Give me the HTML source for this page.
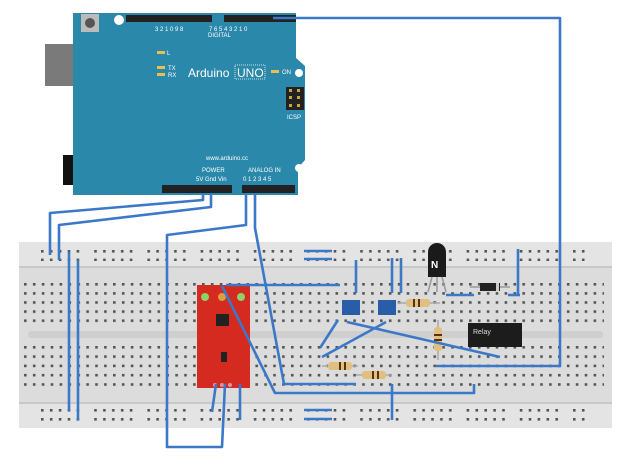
<!DOCTYPE html>
<html><head><meta charset="utf-8"><style>
html,body{margin:0;padding:0;background:#fff;width:620px;height:470px;overflow:hidden}
svg{display:block}
text{font-family:"Liberation Sans",sans-serif}
</style></head><body>
<svg width="620" height="470" viewBox="0 0 620 470" xmlns="http://www.w3.org/2000/svg">
<defs>
<pattern id="railT" x="41" y="250" width="53.2" height="8.6" patternUnits="userSpaceOnUse">
<rect x="0" y="0" width="2.6" height="2.6" fill="#555"/><rect x="8.9" y="0" width="2.6" height="2.6" fill="#555"/><rect x="17.8" y="0" width="2.6" height="2.6" fill="#555"/><rect x="26.7" y="0" width="2.6" height="2.6" fill="#555"/><rect x="35.6" y="0" width="2.6" height="2.6" fill="#555"/>
</pattern>
<pattern id="railB" x="41" y="409" width="53.2" height="9" patternUnits="userSpaceOnUse">
<rect x="0" y="0" width="2.6" height="2.6" fill="#555"/><rect x="8.9" y="0" width="2.6" height="2.6" fill="#555"/><rect x="17.8" y="0" width="2.6" height="2.6" fill="#555"/><rect x="26.7" y="0" width="2.6" height="2.6" fill="#555"/><rect x="35.6" y="0" width="2.6" height="2.6" fill="#555"/>
</pattern>
<pattern id="main" x="24" y="283" width="8.9" height="9.1" patternUnits="userSpaceOnUse">
<rect x="0" y="0" width="2.6" height="2.6" fill="#555"/>
</pattern>
<pattern id="main2" x="24" y="346" width="8.9" height="9.3" patternUnits="userSpaceOnUse">
<rect x="0" y="0" width="2.6" height="2.6" fill="#555"/>
</pattern>
</defs>

<!-- breadboard -->
<rect x="19" y="242" width="593" height="186" fill="#dcdcdc"/>
<rect x="19" y="242" width="593" height="24" fill="#e4e4e4"/>
<rect x="19" y="404" width="593" height="24" fill="#e4e4e4"/>
<rect x="19" y="266" width="593" height="2" fill="#c8c8c8"/>
<rect x="19" y="402" width="593" height="2" fill="#c8c8c8"/>
<rect x="28" y="331" width="575" height="7" rx="3" fill="#cfcfcf"/>
<rect x="41" y="250" width="545" height="11" fill="url(#railT)"/>
<rect x="41" y="409" width="545" height="12" fill="url(#railB)"/>
<rect x="24" y="283" width="580" height="40" fill="url(#main)"/>
<rect x="24" y="346" width="580" height="40" fill="url(#main2)"/>

<!-- Arduino -->
<rect x="45" y="44" width="56" height="42" fill="#7a7a7a"/>
<rect x="63" y="155" width="46" height="30" fill="#111"/>
<path d="M73 13 H296 V58 L305 66 V160 L298 168 V195 H73 Z" fill="#2a88aa"/>
<rect x="81" y="14" width="18" height="18" fill="#bbb"/>
<circle cx="90" cy="23" r="5" fill="#555"/>
<circle cx="119" cy="20" r="5" fill="#fff"/>
<circle cx="299" cy="73" r="4" fill="#fff"/>
<circle cx="299" cy="168" r="4" fill="#fff"/>
<rect x="126" y="15" width="86" height="7" fill="#222"/>
<rect x="224" y="15" width="72" height="7" fill="#222"/>
<rect x="162" y="185" width="70" height="8" fill="#222"/>
<rect x="242" y="185" width="53" height="8" fill="#222"/>
<rect x="286" y="87" width="18" height="23" fill="#222"/>
<g fill="#d0a040"><rect x="289" y="89" width="3" height="3"/><rect x="297" y="89" width="3" height="3"/><rect x="289" y="96" width="3" height="3"/><rect x="297" y="96" width="3" height="3"/><rect x="289" y="104" width="3" height="3"/><rect x="297" y="104" width="3" height="3"/></g>
<g fill="#e8c050"><rect x="157" y="51" width="8" height="3"/><rect x="157" y="66" width="8" height="3"/><rect x="157" y="73" width="8" height="3"/><rect x="271" y="70" width="8" height="3"/></g>
<g fill="#fff" font-size="6">
<text x="167" y="55">L</text><text x="168" y="70">TX</text><text x="168" y="77">RX</text>
<text x="282" y="74">ON</text><text x="208" y="37">DIGITAL</text>
<text x="287" y="119">ICSP</text>
<text x="206" y="160">www.arduino.cc</text>
<text x="202" y="172">POWER</text><text x="248" y="172">ANALOG IN</text>
<text x="196" y="181">5V Gnd Vin</text><text x="243" y="181">0 1 2 3 4 5</text>
<text x="209" y="31">7 6 5 4 3 2 1 0</text>
<text x="155" y="31">3 2 1 0 9 8</text>
</g>
<text x="188" y="77" fill="#fff" font-size="12">Arduino</text>
<rect x="235" y="65" width="30" height="14" fill="none" stroke="#fff" stroke-width="0.8" stroke-dasharray="1,1"/>
<text x="237" y="77" fill="#fff" font-size="12">UNO</text>

<!-- red board -->
<rect x="197" y="285" width="53" height="103" fill="#d42a1f"/>
<circle cx="205" cy="297" r="4" fill="#8fd06a"/><circle cx="222" cy="297" r="4" fill="#d7a040"/><circle cx="241" cy="297" r="4" fill="#8fd06a"/>
<rect x="216" y="314" width="13" height="12" fill="#222"/>
<rect x="221" y="352" width="6" height="10" fill="#222"/>
<circle cx="215" cy="385" r="2" fill="#c9a"/><circle cx="222" cy="385" r="2" fill="#c9a"/><circle cx="230" cy="385" r="2" fill="#c9a"/>

<!-- trimpots -->
<rect x="342" y="300" width="18" height="15" fill="#2a5da8"/>
<rect x="378" y="300" width="18" height="15" fill="#2a5da8"/>
<!-- transistor -->
<path d="M428 252 a9 9 0 0 1 18 0 V277 H428Z" fill="#1a1a1a"/>
<text x="431" y="268" fill="#fff" font-size="10" font-weight="bold">N</text>
<path d="M432 277 L428 292 M437 277 V292 M442 277 L446 292" stroke="#999" stroke-width="1.5" fill="none"/>
<!-- diode -->
<line x1="470" y1="287" x2="510" y2="287" stroke="#999" stroke-width="1.5"/>
<rect x="480" y="283" width="20" height="8" fill="#222"/><rect x="496" y="283" width="3" height="8" fill="#ccc"/>
<!-- resistors -->
<g stroke="#aaa" stroke-width="1.5">
<line x1="398" y1="303" x2="440" y2="303"/><line x1="438" y1="320" x2="438" y2="360"/>
<line x1="322" y1="366" x2="358" y2="366"/><line x1="356" y1="375" x2="392" y2="375"/>
</g>
<g fill="#e0c080"><rect x="406" y="299" width="24" height="8" rx="3"/><rect x="434" y="327" width="8" height="24" rx="3"/><rect x="328" y="362" width="24" height="8" rx="3"/><rect x="362" y="371" width="24" height="8" rx="3"/></g>
<g fill="#5a3010"><rect x="413" y="299" width="2" height="8"/><rect x="418" y="299" width="2" height="8"/><rect x="434" y="334" width="8" height="2"/><rect x="434" y="339" width="8" height="2"/><rect x="339" y="362" width="2" height="8"/><rect x="344" y="362" width="2" height="8"/><rect x="372" y="371" width="2" height="8"/><rect x="377" y="371" width="2" height="8"/></g>
<!-- relay -->
<rect x="468" y="323" width="54" height="24" fill="#1c1c1c"/>
<text x="473" y="334" fill="#ddd" font-size="7" font-family="Liberation Mono">Relay</text>

<!-- wires -->
<g stroke="#3c78c8" stroke-width="2.6" fill="none" stroke-linejoin="round">
<polyline points="273,18 560,18 560,366 436,366"/>
<polyline points="203,193 203,200 50,213 50,255"/>
<polyline points="211,193 211,207 59,225 59,260"/>
<line x1="69" y1="252" x2="69" y2="411"/>
<line x1="78" y1="260" x2="78" y2="420"/>
<polyline points="246,193 246,225 167,235 167,447 222,447 225,384"/>
<polyline points="255,193 255,228 284,384 356,384"/>
<polyline points="222,286 275,393 474,393 474,384"/>
<polyline points="226,285 340,285"/>
<line x1="216" y1="384" x2="212" y2="412"/>
<line x1="240" y1="384" x2="240" y2="420"/>
<line x1="304" y1="251" x2="332" y2="251"/><line x1="304" y1="259" x2="332" y2="259"/>
<line x1="304" y1="410" x2="332" y2="410"/><line x1="304" y1="419" x2="332" y2="419"/>
<line x1="356" y1="260" x2="356" y2="293"/>
<line x1="392" y1="258" x2="392" y2="293"/><line x1="401" y1="258" x2="401" y2="293"/>
<line x1="518" y1="249" x2="518" y2="295"/>
<line x1="446" y1="295" x2="474" y2="295"/><line x1="508" y1="295" x2="520" y2="295"/>
<line x1="338" y1="320" x2="320" y2="348"/>
<line x1="386" y1="322" x2="322" y2="357"/>
<line x1="347" y1="322" x2="500" y2="357"/>
<line x1="392" y1="384" x2="392" y2="420"/>
</g>
</svg>
</body></html>
